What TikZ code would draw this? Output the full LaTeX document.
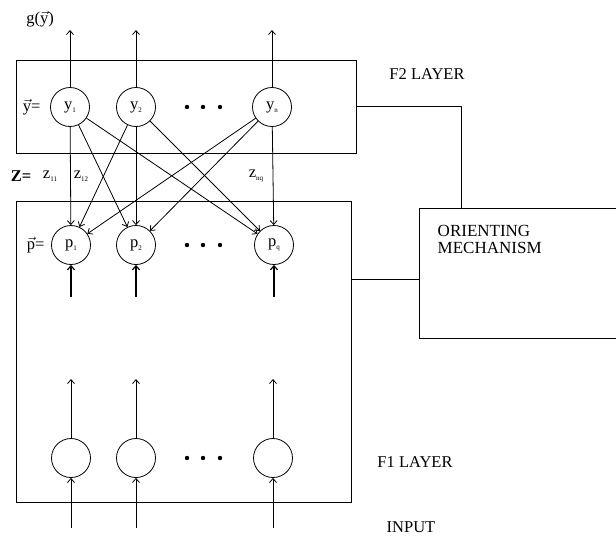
\documentclass[tikz,border=0pt]{standalone}
\usepackage{fontspec}
\setmainfont{Liberation Serif}
\usepackage{amsmath}
\usetikzlibrary{arrows.meta, positioning}
\newcommand{\lo}[1]{\raisebox{-0.45ex}{\fontsize{7}{7}\selectfont #1}}

\begin{document}
\begin{tikzpicture}[x=1pt, y=-1pt, font=\fontsize{16.5}{18}\selectfont, line width=0.8pt,
        unit/.style={circle, draw, minimum size=39pt, inner sep=0pt},
        layer/.style={rectangle, draw, inner sep=0pt, outer sep=0pt},
        line/.style={draw, -{Straight Barb[length=4pt,width=7pt]}},
        wire/.style={draw}]
    \useasboundingbox (0,0) rectangle (616,539);

    % layers
    \node [layer, minimum width=340pt, minimum height=93pt] (f2) at (186,106.5) {};
    \node [layer, minimum width=335pt, minimum height=301pt] (f1) at (183.5,351.5) {};
    \node [layer, minimum width=197pt, minimum height=130pt,
        label={[anchor=north west, align=left, xshift=15pt, yshift=-14pt, font=\fontsize{17}{17}\selectfont]north west:ORIENTING\\MECHANISM}]
        (orient) at (517.5,273) {};

    % units
    \node [unit] (y1) at (70,107) {y\lo{1}};
    \node [unit] (y2) at (136,107) {y\lo{2}};
    \node [unit] (yn) at (272,107) {y\lo{n}};
    \node [unit] (p1) at (71,245) {p\lo{1}};
    \node [unit] (p2) at (136,245) {p\lo{2}};
    \node [unit] (pq) at (274,245) {p\lo{q}};
    \node [unit] (b1) at (71,458) {};
    \node [unit] (b2) at (136,458) {};
    \node [unit] (bq) at (273,458) {};

    \foreach \y in {107,245,458}
        \foreach \x in {187,203,220}
            \fill (\x,\y) circle (2.2pt);

    % labels
    \node (gout) at (40,19) {g($\vec{\text{y}}$)};
    \node [left=6pt of y1] (yvec) {$\vec{\text{y}}$=};
    \node [left=3pt of p1] (pvec) {$\vec{\text{p}}$=};
    \node (zmat) at (21,176) {\textbf{Z=}};
    \node (z11) at (50,176) {z\lo{11}};
    \node (z12) at (81,176) {z\lo{12}};
    \node (znq) at (256,176) {z\lo{nq}};
    \node (f2lbl) at (427,74) {F2 LAYER};
    \node (f1lbl) at (415,462) {F1 LAYER};
    \node (inlbl) at (411,527) {INPUT};

    % F2 outputs
    \foreach \n in {y1,y2,yn}
        \coordinate (top-\n) at (\n |- 0,30);
    \foreach \n in {y1,y2,yn}
        \path [line] (\n.north) -- (top-\n);

    % adaptive weights
    \foreach \a in {y1,y2,yn}
        \foreach \b in {p1,p2,pq}
            \path [line] (\a) -- (\b);

    % F1 signals
    \foreach \n in {p1,p2,pq}
        \coordinate (bot-\n) at (\n |- 0,297);
    \foreach \n in {p1,p2,pq}
        \path [line, line width=1.2pt] (bot-\n) -- (\n.south);
    \foreach \n in {b1,b2,bq}
        \coordinate (up-\n) at (\n |- 0,379);
    \foreach \n in {b1,b2,bq}
        \path [line] (\n.north) -- (up-\n);
    \foreach \n in {b1,b2,bq}
        \coordinate (in-\n) at (\n |- 0,528);
    \foreach \n in {b1,b2,bq}
        \path [line] (in-\n) -- (\n.south);

    % orienting links
    \path [wire] (f2.east) -| ([xshift=-56pt]orient.north);
    \path [wire] ([yshift=72pt]f1.east) coordinate (tap) -- (tap -| orient.west);

\end{tikzpicture}
\end{document}
